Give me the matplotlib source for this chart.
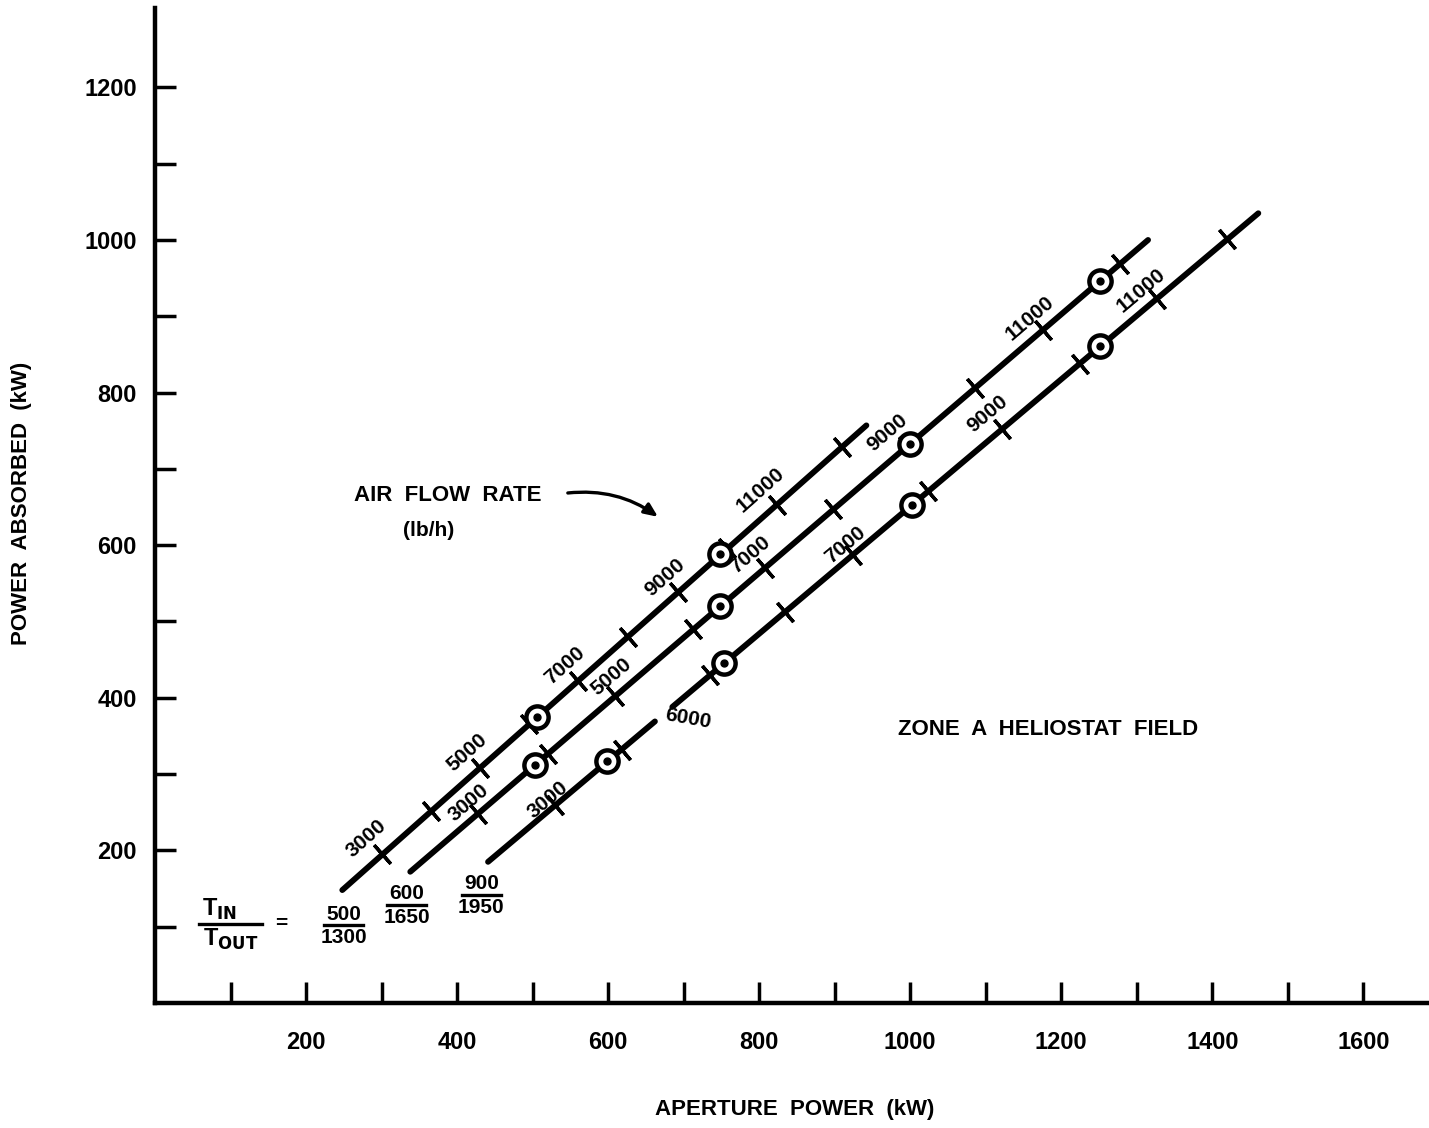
import numpy as np
import matplotlib
matplotlib.use("Agg")
import matplotlib.pyplot as plt

plt.rcParams["font.family"] = ["Liberation Sans", "DejaVu Sans"]
plt.rcParams["font.weight"] = "bold"

# --- data (aperture power kW, power absorbed kW) ---
line_names = ["500/1300", "600/1650", "900/1950"]

line1_x = [248, 942]
line1_y = [148, 757]
line2_x = [338, 1315]
line2_y = [172, 1000]
line3_x = [441, 662, 685, 1461]      # line 3 has a small break near the "6000" label
line3_y = [185, 369, 388, 1035]

# design points (circled)
pts1_x = [506, 748]
pts1_y = [375, 588]
pts2_x = [503, 748, 1000, 1252]
pts2_y = [312, 520, 733, 946]
pts3_x = [599, 754, 1003, 1252]
pts3_y = [317, 446, 653, 861]

# air flow rate ticks, 3000 .. 12000 lb/h
flow_rates = [3000, 4000, 5000, 6000, 7000, 8000, 9000, 10000, 11000, 12000]
ticks1_x = [301, 366, 430, 495, 560, 626, 693, 758, 824, 910]
ticks1_y = [195, 252, 308, 365, 422, 480, 538, 596, 653, 729]
ticks2_x = [428, 520, 609, 713, 808, 898, 996, 1086, 1176, 1278]
ticks2_y = [248, 326, 402, 490, 570, 647, 730, 806, 882, 969]
ticks3_x = [530, 618, 735, 834, 924, 1024, 1122, 1225, 1327, 1420]
ticks3_y = [259, 332, 430, 512, 587, 671, 752, 838, 923, 1001]

flow_labels1 = ["3000", "5000", "7000", "9000", "11000"]
flow_labels2 = ["3000", "5000", "7000", "9000", "11000"]
flow_labels3 = ["3000", "6000", "7000", "9000", "11000"]

# label placement (layout only)
lab1_pos = [(280, 216), (413, 329), (543, 442), (675, 558), (801, 672)]
lab2_pos = [(415, 263), (605, 427), (788, 587), (970, 747), (1159, 898)]
lab3_pos = [(520, 266), (706, 373), (914, 600), (1103, 772), (1306, 934)]
lab3_rot = [40, -10, 40, 40, 40]

fig = plt.figure(figsize=(14.29, 11.28), dpi=100)
ax = fig.add_axes([155 / 1429, 1 - 1003 / 1128, 1 - 155 / 1429, (1003 - 8) / 1128])
ax.set_xlim(0, 1687)
ax.set_ylim(0, 1304)

for s in ["top", "right"]:
    ax.spines[s].set_visible(False)
ax.spines["left"].set_linewidth(3.2)
ax.spines["bottom"].set_linewidth(3.2)

ax.set_xticks(np.arange(100, 1700, 100))
ax.set_xticklabels([str(v) if v % 200 == 0 else "" for v in range(100, 1700, 100)])
ax.set_yticks(np.arange(100, 1300, 100))
ax.set_yticklabels([str(v) if v % 200 == 0 else "" for v in range(100, 1300, 100)])
ax.tick_params(axis="x", direction="in", length=15, width=2.5, pad=20, labelsize=17)
ax.tick_params(axis="y", direction="in", length=15, width=2.5, pad=13, labelsize=17)
for lab in ax.get_xticklabels() + ax.get_yticklabels():
    lab.set_fontweight("bold")


def disp_angle(xs, ys):
    p = ax.transData.transform([[xs[0], ys[0]], [xs[-1], ys[-1]]])
    return np.degrees(np.arctan2(p[1, 1] - p[0, 1], p[1, 0] - p[0, 0]))


def draw_line(xs, ys, tx, ty, px, py, labels, lpos, lrot=None):
    if len(xs) == 4:
        ax.plot(xs[:2], ys[:2], color="black", lw=4.2, solid_capstyle="round")
        ax.plot(xs[2:], ys[2:], color="black", lw=4.2, solid_capstyle="round")
    else:
        ax.plot(xs, ys, color="black", lw=4.2, solid_capstyle="round")
    ang = disp_angle(xs, ys)
    ax.plot(tx, ty, linestyle="none", marker=(2, 2, ang), ms=18,
            mew=2.4, mec="black", zorder=3)
    ax.plot(px, py, linestyle="none", marker="o", ms=16, mfc="white",
            mec="black", mew=3.2, zorder=4)
    ax.plot(px, py, linestyle="none", marker="o", ms=5, mfc="black",
            mec="black", zorder=5)
    for i, (t, (lx, ly)) in enumerate(zip(labels, lpos)):
        r = ang if lrot is None else lrot[i]
        ax.text(lx, ly, t, rotation=r, rotation_mode="anchor", ha="center",
                va="center", fontsize=15, fontweight="bold")


draw_line(line1_x, line1_y, ticks1_x, ticks1_y, pts1_x, pts1_y, flow_labels1, lab1_pos)
draw_line(line2_x, line2_y, ticks2_x, ticks2_y, pts2_x, pts2_y, flow_labels2, lab2_pos)
draw_line(line3_x, line3_y, ticks3_x, ticks3_y, pts3_x, pts3_y, flow_labels3, lab3_pos, lab3_rot)

# annotations
ax.text(388, 665, "AIR  FLOW  RATE", ha="center", va="center", fontsize=16, fontweight="bold")
ax.text(362, 619, "(lb/h)", ha="center", va="center", fontsize=15, fontweight="bold")
ax.annotate("", xy=(669, 635), xytext=(543, 668),
            arrowprops=dict(arrowstyle="-|>,head_length=0.8,head_width=0.35",
                            color="black", lw=2.4, connectionstyle="arc3,rad=-0.2"))
ax.text(1183, 358, "ZONE  A  HELIOSTAT  FIELD", ha="center", va="center",
        fontsize=16, fontweight="bold")


# T_in / T_out fractions
def frac(xc, ytop, top, bottom, size=15, barw=52):
    ax.text(xc, ytop, top, ha="center", va="bottom", fontsize=size, fontweight="bold")
    ax.plot([xc - barw / 2, xc + barw / 2], [ytop - 2, ytop - 2], color="black", lw=2.4)
    ax.text(xc, ytop - 6, bottom, ha="center", va="top", fontsize=size, fontweight="bold")


ax.text(85, 106, "T$_{\\mathbf{IN}}$", ha="center", va="bottom", fontsize=17, fontweight="bold")
ax.plot([58, 142], [104, 104], color="black", lw=2.4)
ax.text(100, 100, "T$_{\\mathbf{OUT}}$", ha="center", va="top", fontsize=17, fontweight="bold")
ax.text(167, 104, "=", ha="center", va="center", fontsize=15, fontweight="bold")
frac(250, 104, line_names[0].split("/")[0], line_names[0].split("/")[1])
frac(333, 131, line_names[1].split("/")[0], line_names[1].split("/")[1])
frac(432, 144, line_names[2].split("/")[0], line_names[2].split("/")[1])

fig.text(795 / 1429, 1 - 1110 / 1128, "APERTURE  POWER  (kW)", ha="center", va="center",
         fontsize=16, fontweight="bold")
fig.text(22 / 1429, 1 - 503 / 1128, "POWER  ABSORBED  (kW)", ha="center", va="center",
         rotation=90, fontsize=16, fontweight="bold")

fig.savefig("out.png", dpi=100)
